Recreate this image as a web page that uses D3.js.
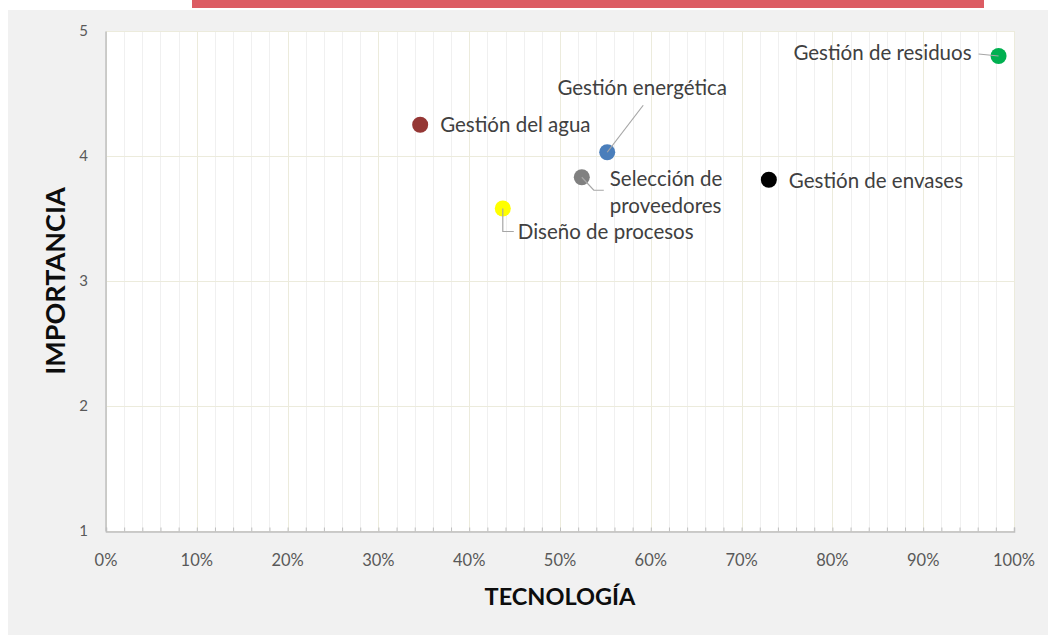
<!DOCTYPE html>
<html>
<head>
<meta charset="utf-8">
<script src="https://cdn.jsdelivr.net/npm/d3@7"></script>
<style>
  body { margin: 0; background: #fff; }
  svg { display: block; font-family: Lato, "Open Sans", sans-serif; }
</style>
</head>
<body>
<svg id="chart" width="1048" height="635"></svg>
<script>
// data
var names = ['Gestión del agua', 'Gestión energética', 'Selección de proveedores',
    'Diseño de procesos', 'Gestión de envases', 'Gestión de residuos'];
var tecnologia = [0.346, 0.552, 0.524, 0.437, 0.730, 0.983];
var importancia = [4.25, 4.03, 3.83, 3.58, 3.81, 4.80];
var colors = ['#953735', '#4a7ebb', '#808080', '#ffff00', '#000000', '#00b050'];
var xTicks = [0, 0.1, 0.2, 0.3, 0.4, 0.5, 0.6, 0.7, 0.8, 0.9, 1];
var yTicks = [1, 2, 3, 4, 5];

// label placement (layout only): text anchor point relative to the dot, leader line
var labelPos = [
    { dx: 20, dy: 7, anchor: 'start', lines: ['Gestión del agua'], leader: null },
    { dx: 35, dy: -57, anchor: 'middle', lines: ['Gestión energética'], leader: [[0, 0], [36, -47]] },
    { dx: 28, dy: 9, anchor: 'start', lines: ['Selección de', 'proveedores'], leader: [[0, 0], [12, 13], [22, 13]] },
    { dx: 15, dy: 30, anchor: 'start', lines: ['Diseño de procesos'], leader: [[0, 0], [0, 23], [11, 23]] },
    { dx: 20, dy: 8, anchor: 'start', lines: ['Gestión de envases'], leader: null },
    { dx: -27, dy: 4, anchor: 'end', lines: ['Gestión de residuos'], leader: [[0, 0], [-20, -2]] }
];

var svg = d3.select('#chart');

// page furniture
svg.append('rect').attr('x', 192).attr('y', 0).attr('width', 792).attr('height', 8).attr('fill', '#dc5c63');
svg.append('rect').attr('x', 8).attr('y', 10).attr('width', 1040).attr('height', 625).attr('fill', '#f1f1f1');

var plotL = 106, plotR = 1014, plotT = 31, plotB = 531;

var x = d3.scaleLinear().domain([0, 1]).range([plotL, plotR]);
var y = d3.scaleLinear().domain([1, 5]).range([plotB, plotT]);

svg.append('rect')
    .attr('x', plotL).attr('y', plotT)
    .attr('width', plotR - plotL).attr('height', plotB - plotT)
    .attr('fill', '#ffffff');

// minor vertical gridlines every 2%
var minor = d3.range(0, 51).map(function (i) { return i / 50; });
svg.selectAll('.vminor')
    .data(minor)
    .enter()
    .append('line')
    .attr('class', 'vminor')
    .attr('x1', function (d) { return Math.round(x(d)) + 0.5; })
    .attr('x2', function (d) { return Math.round(x(d)) + 0.5; })
    .attr('y1', plotT).attr('y2', plotB)
    .attr('stroke', function (d, i) { return i % 5 == 0 ? '#ecebdc' : '#f0f0f0'; })
    .attr('stroke-width', 1);

svg.selectAll('.hgrid')
    .data(yTicks)
    .enter()
    .append('line')
    .attr('class', 'hgrid')
    .attr('x1', plotL).attr('x2', plotR)
    .attr('y1', function (d) { return Math.round(y(d)) + 0.5; })
    .attr('y2', function (d) { return Math.round(y(d)) + 0.5; })
    .attr('stroke', '#ecebdc');

// axes
var xAxis = svg.append('g')
    .attr('transform', 'translate(0,' + (plotB + 0.5) + ')')
    .call(d3.axisTop(x).tickValues(minor).tickSize(4).tickFormat(''));
xAxis.select('.domain').attr('stroke', '#bfbfbf').attr('stroke-width', 1.5);
xAxis.selectAll('.tick line').attr('stroke', '#bfbfbf');

svg.selectAll('.xlab')
    .data(xTicks)
    .enter()
    .append('text')
    .attr('class', 'xlab')
    .attr('x', function (d) { return x(d); })
    .attr('y', 566)
    .attr('text-anchor', 'middle')
    .style('font-size', '16.5px')
    .style('fill', '#595959')
    .text(d3.format('.0%'));

var yAxis = svg.append('g')
    .attr('transform', 'translate(' + (plotL - 0.5) + ',0)')
    .call(d3.axisLeft(y).tickValues(yTicks).tickSize(0).tickFormat(''));
yAxis.select('.domain').attr('stroke', '#bfbfbf').attr('stroke-width', 1.5);

svg.selectAll('.ylab')
    .data(yTicks)
    .enter()
    .append('text')
    .attr('class', 'ylab')
    .attr('x', 88)
    .attr('y', function (d) { return y(d) + 5; })
    .attr('text-anchor', 'end')
    .style('font-size', '15px')
    .style('fill', '#595959')
    .text(function (d) { return d; });

svg.append('text')
    .attr('x', 560).attr('y', 605)
    .attr('text-anchor', 'middle')
    .style('font-size', '23.5px').style('font-weight', 'bold').style('fill', '#0d0d0d')
    .text('TECNOLOGÍA');

svg.append('text')
    .attr('transform', 'translate(65,281)rotate(-90)')
    .attr('text-anchor', 'middle')
    .style('font-size', '27px').style('font-weight', 'bold').style('fill', '#0d0d0d')
    .text('IMPORTANCIA');

// points
var pts = names.map(function (n, i) {
    return { name: n, t: tecnologia[i], imp: importancia[i], color: colors[i], lab: labelPos[i] };
});

svg.selectAll('.dot')
    .data(pts)
    .enter()
    .append('circle')
    .attr('class', 'dot')
    .attr('cx', function (d) { return x(d.t); })
    .attr('cy', function (d) { return y(d.imp); })
    .attr('r', 8)
    .attr('fill', function (d) { return d.color; });

svg.selectAll('.leader')
    .data(pts.filter(function (d) { return d.lab.leader; }))
    .enter()
    .append('polyline')
    .attr('class', 'leader')
    .attr('points', function (d) {
        return d.lab.leader.map(function (p) { return [x(d.t) + p[0], y(d.imp) + p[1]].join(','); }).join(' ');
    })
    .attr('fill', 'none')
    .attr('stroke', '#a6a6a6')
    .attr('stroke-width', 1.2);

var labels = svg.selectAll('.lab')
    .data(pts)
    .enter()
    .append('text')
    .attr('class', 'lab')
    .attr('x', function (d) { return x(d.t) + d.lab.dx; })
    .attr('y', function (d) { return y(d.imp) + d.lab.dy; })
    .attr('text-anchor', function (d) { return d.lab.anchor; })
    .style('font-size', '20.5px')
    .style('fill', '#404040');

labels.each(function (d) {
    var t = d3.select(this);
    d.lab.lines.forEach(function (line, i) {
        t.append('tspan')
            .attr('x', x(d.t) + d.lab.dx)
            .attr('dy', i == 0 ? 0 : 27)
            .text(line);
    });
});
</script>
</body>
</html>
